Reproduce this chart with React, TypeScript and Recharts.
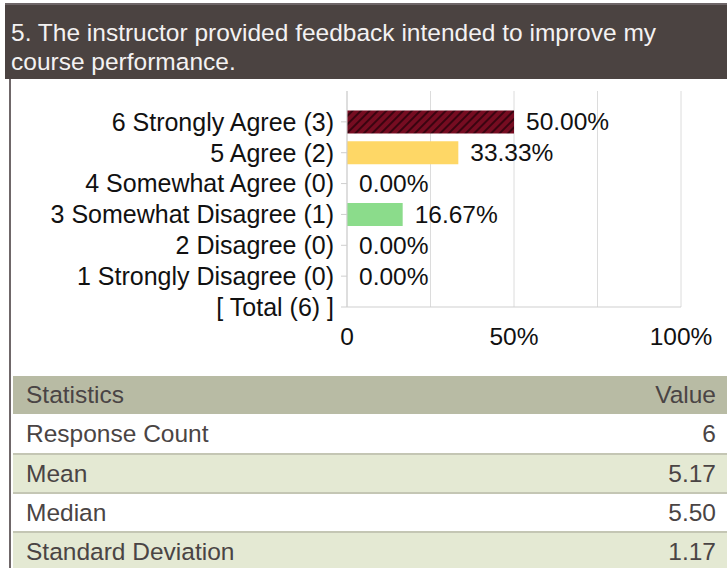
import { ComposedChart, Bar, Scatter, XAxis, YAxis, CartesianGrid, Cell, LabelList } from "recharts";

const categories = [
  "6 Strongly Agree (3)",
  "5 Agree (2)",
  "4 Somewhat Agree (0)",
  "3 Somewhat Disagree (1)",
  "2 Disagree (0)",
  "1 Strongly Disagree (0)",
];
const totalLabel = "[ Total (6) ]";
const percents = [50.0, 33.33, 0.0, 16.67, 0.0, 0.0];
const barColors = ["url(#hatchRed)", "#fed766", "#cccccc", "#8bdc8b", "#cccccc", "#cccccc"];
const xTicks = [0, 25, 50, 75, 100];
const xTickLabels: Record<number, string> = { 0: "0", 50: "50%", 100: "100%" };

const statNames = ["Response Count", "Mean", "Median", "Standard Deviation"];
const statValues = ["6", "5.17", "5.50", "1.17"];

const data = categories.map((name, i) => ({ name, pos: i + 1, value: percents[i] }));
const yLabels = [...categories, totalLabel];

const font = "'Liberation Sans', Arial, Helvetica, sans-serif";

// value labels drawn off the scatter points, so 0% rows get one too
const ValueLabel = (props: any) => {
  const { x, y, width, height, value } = props;
  const cx = x + width / 2;
  const cy = y + height / 2;
  return (
    <text x={cx + 12} y={cy} dy="0.35em" fill="#111" fontSize={24.5} fontFamily={font}>
      {`${Number(value).toFixed(2)}%`}
    </text>
  );
};

const App = () => {
  return (
    <div
      style={{
        position: "absolute",
        left: 0,
        top: 0,
        width: 727,
        height: 568,
        overflow: "hidden",
        background: "#fff",
        fontFamily: font,
      }}
    >
      <svg width={0} height={0} style={{ position: "absolute" }}>
        <defs>
          <pattern id="hatchRed" width={6} height={6} patternUnits="userSpaceOnUse" patternTransform="rotate(45)">
            <rect width={6} height={6} fill="#760c21" />
            <rect width={2} height={6} fill="#3a0410" />
          </pattern>
        </defs>
      </svg>

      {/* question header */}
      <div
        style={{
          position: "absolute",
          left: 5,
          top: 3,
          width: 722,
          height: 76,
          background: "#4b4341",
          borderTop: "2px solid #6e6668",
          boxSizing: "border-box",
          color: "#f4f2f2",
          fontSize: 24.5,
          lineHeight: "29px",
          padding: "13px 0 0 6px",
        }}
      >
        5. The instructor provided feedback intended to improve my
        <br />
        course performance.
      </div>

      {/* left border */}
      <div style={{ position: "absolute", left: 9, top: 79, width: 2, height: 489, background: "#6f6769" }} />

      <div style={{ position: "absolute", left: 0, top: 80 }}>
        <ComposedChart
          width={727}
          height={292}
          data={data}
          layout="vertical"
          margin={{ top: 11, right: 46, bottom: 0, left: 0 }}
        >
          <CartesianGrid horizontal={false} stroke="#dcdcdc" />
          <XAxis
            type="number"
            domain={[0, 100]}
            ticks={xTicks}
            interval={0}
            tickFormatter={(v: number) => xTickLabels[v] ?? ""}
            axisLine={{ stroke: "#cfcfcf" }}
            tickLine={false}
            tickMargin={15}
            height={65}
            tick={{ fill: "#111", fontSize: 24.5, fontFamily: font }}
          />
          <YAxis
            type="number"
            dataKey="pos"
            domain={[0, 7]}
            ticks={[1, 2, 3, 4, 5, 6, 7]}
            interval={0}
            tickFormatter={(v: number) => yLabels[v - 1] ?? ""}
            width={347}
            axisLine={{ stroke: "#cfcfcf" }}
            tickLine={{ stroke: "#cfcfcf" }}
            tickSize={6}
            tickMargin={7}
            tick={{ fill: "#111", fontSize: 25, fontFamily: font }}
          />
          <Bar dataKey="value" barSize={23} isAnimationActive={false}>
            {data.map((d, i) => (
              <Cell key={d.name} fill={barColors[i]} />
            ))}
          </Bar>
          <Scatter dataKey="value" shape={() => <g />} isAnimationActive={false}>
            <LabelList dataKey="value" content={<ValueLabel />} />
          </Scatter>
        </ComposedChart>
      </div>

      {/* statistics table */}
      <div style={{ position: "absolute", left: 13, top: 376, width: 714, fontSize: 24.5, color: "#4a4444" }}>
        <div
          style={{
            height: 38,
            background: "#b8bba4",
            display: "flex",
            justifyContent: "space-between",
            alignItems: "center",
            padding: "0 11px 0 13px",
          }}
        >
          <span>Statistics</span>
          <span>Value</span>
        </div>
        {statNames.map((n, i) => (
          <div
            key={n}
            style={{
              height: 39,
              boxSizing: "border-box",
              borderTop: i === 0 ? "none" : "2px solid #c4c6b4",
              background: i % 2 === 0 ? "#ffffff" : "#e4e9d3",
              display: "flex",
              justifyContent: "space-between",
              alignItems: "center",
              padding: "0 11px 0 13px",
            }}
          >
            <span>{n}</span>
            <span>{statValues[i]}</span>
          </div>
        ))}
      </div>
    </div>
  );
};

export default App;
